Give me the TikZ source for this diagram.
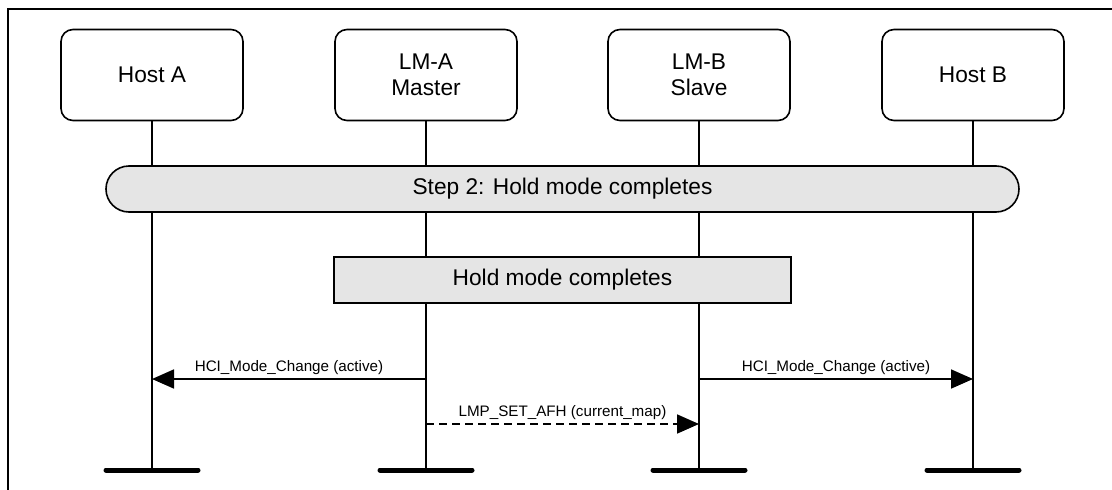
\documentclass[tikz,border=0pt]{standalone}
\usepackage{fontspec}
\setmainfont{Liberation Sans}
\usetikzlibrary{arrows.meta,calc}
\definecolor{barfill}{HTML}{E5E5E5}

\tikzset{
    entity/.style={draw, line width=1.6pt, rounded corners=12pt, fill=white, minimum width=182pt, minimum height=91pt, align=center},
    phase/.style={draw, line width=1.6pt, fill=barfill, minimum height=46pt},
    lifeline/.style={line width=1.8pt},
    endbar/.style={line width=5pt, line cap=round},
    msg/.style={line width=1.8pt, -{Triangle[length=22pt,width=19pt]}},
    msglabel/.style={font=\fontsize{15.2}{18}\selectfont}
}

\begin{document}
\begin{tikzpicture}[x=1pt,y=-1pt, every node/.style={font=\fontsize{22.7}{25.5}\selectfont}]
    \useasboundingbox (0,0) rectangle (1112,490);
    \draw[line width=2pt] (8,490) -- (8,9) -- (1112,9);

    % entities
    \node[entity] (hostA) at (152,75) {Host A};
    \node[entity] (lmA) at (426,75) {LM-A\\Master};
    \node[entity] (lmB) at (699,75) {LM-B\\Slave};
    \node[entity] (hostB) at (973,75) {Host B};

    \coordinate (endA) at (152,470);
    \coordinate (endLA) at (426,470);
    \coordinate (endLB) at (699,470);
    \coordinate (endB) at (973,470);

    \draw[lifeline] (hostA.south) -- (endA);
    \draw[lifeline] (lmA.south) -- (endLA);
    \draw[lifeline] (lmB.south) -- (endLB);
    \draw[lifeline] (hostB.south) -- (endB);

    % phases
    \node[phase, rounded corners=23pt, minimum width=913pt] (step) at (562.5,189) {Step 2: Hold mode completes};
    \node[phase, minimum width=457pt] (hold) at (562.5,280) {Hold mode completes};

    % messages
    \coordinate (m1s) at (426,379);
    \coordinate (m1e) at (152,379);
    \coordinate (m2s) at (699,379);
    \coordinate (m2e) at (973,379);
    \coordinate (m3s) at (426,424);
    \coordinate (m3e) at (699,424);
    \draw[msg] (m1s) -- node[above, msglabel] {HCI\_Mode\_Change (active)} (m1e);
    \draw[msg] (m2s) -- node[above, msglabel] {HCI\_Mode\_Change (active)} (m2e);
    \draw[msg, dash pattern=on 8pt off 5pt] (m3s) -- node[above, msglabel] {LMP\_SET\_AFH (current\_map)} (m3e);

    \foreach \e in {endA,endLA,endLB,endB}
        \draw[endbar] ($(\e)+(-46,0)$) -- ($(\e)+(46,0)$);
\end{tikzpicture}
\end{document}
